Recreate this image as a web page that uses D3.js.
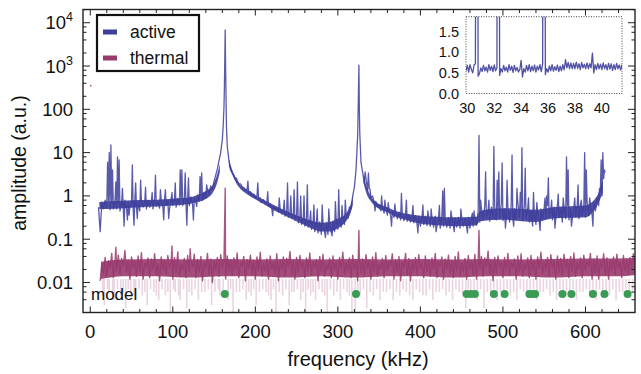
<!DOCTYPE html>
<html>
<head>
<meta charset="utf-8">
<script src="https://cdn.jsdelivr.net/npm/d3@7"></script>
<style>
  body { margin: 0; background: #fff; }
  text { font-family: "Liberation Sans", Arial, sans-serif; fill: #111; }
</style>
</head>
<body>
<script>
// ---- data ----
// active spectrum: noise band sampled every 2 kHz from 10 kHz
const activeStart = 10, activeStep = 2;
const activeBand = [
  .55,.15,.72,.5,.8,.55,.75,.48,.7,.5,
  .78,.5,.7,.45,.68,.52,.8,.5,.72,.55,
  .75,.5,.82,.55,.7,.45,.78,.55,.72,.5,
  .8,.55,.75,.5,.85,.58,.72,.52,.8,.55,
  .82,.6,.78,.5,.85,.6,.8,.55,.88,.62,
  .85,.6,.9,.65,.82,.6,.95,.62,.9,.7,
  1.05,.75,1.1,.8,1.2,.9,1.4,1.1,1.7,1.4,
  2.2,3.0,4.2,6.5,10,20,110,900,14,6.5,
  4.0,3.4,3.0,2.4,2.3,1.9,1.9,1.6,1.55,1.35,
  1.4,1.15,1.25,1.0,1.1,.9,1.0,.82,.9,.75,
  .82,.65,.72,.58,.66,.5,.6,.47,.55,.42,
  .52,.38,.48,.34,.44,.32,.42,.3,.38,.27,
  .36,.24,.33,.22,.3,.2,.29,.19,.27,.17,
  .26,.15,.24,.14,.25,.13,.23,.14,.24,.13,
  .25,.14,.26,.15,.28,.17,.3,.19,.33,.22,
  .38,.3,.55,.5,1.0,1.6,4,25,120,6,
  3.5,2.0,2.6,1.3,1.5,.9,1.0,.7,.75,.55,
  .62,.45,.55,.4,.52,.36,.48,.34,.45,.32,
  .44,.3,.42,.28,.4,.27,.38,.26,.37,.25,
  .36,.24,.35,.22,.34,.2,.33,.22,.34,.21,
  .33,.2,.32,.19,.34,.2,.32,.18,.33,.2,
  .32,.19,.31,.18,.33,.2,.31,.19,.32,.18,
  .33,.2,.31,.19,.32,.18,.33,.2,.31,.21,
  .45,.25,.5,.28,.6,.3,.45,.26,.55,.3,
  .6,.28,.5,.3,.65,.27,.5,.3,.55,.25,
  .6,.3,.5,.28,.7,.32,.5,.27,.6,.3,
  .5,.25,.45,.2,.4,.22,.45,.25,.5,.28,
  .55,.3,.6,.32,.5,.28,.55,.3,.6,.32,
  .5,.25,.55,.3,.6,.28,.5,.3,.55,.33,
  .6,.3,.65,.35,.6,.32,.7,.35,.65,.38,
  .75,.45,.9,.6,1.3,1.0,2.5,3.5
];
// resonance tops [kHz, amplitude]
const activePeaks = [
  [161, 40], [162.5, 300], [163, 1500], [163.5, 6800], [164.5, 200], [165, 40],
  [325, 300], [325.5, 1050], [326.5, 30]
];
// narrow spikes and dips [kHz, amplitude]
const activeSpikes = [
  [21,6],[23,10],[25,15],[27,4],[31,2.1],[33,8],[35,6.8],[39,1.5],[41,.2],[45,.28],
  [47,.36],[51,5.2],[53,.21],[55,2],[57,.3],[61,2.3],[67,1.6],[75,1.2],[79,3],[85,1.4],
  [89,.28],[91,1.4],[95,.3],[99,1.2],[103,2],[109,4],[111,4],[115,3.4],[117,.21],[119,2.6],
  [125,.28],[129,.57],[133,2.8],[135,3.4],[141,1.8],
  [177,2.6],[183,1.8],[191,2.2],[203,2],[207,.7],[215,1.25],[221,.35],[229,.9],[235,.8],
  [239,2],[243,1],[247,1.4],[251,2.1],[255,1],[259,1],[263,1.8],[267,.45],[271,.62],
  [275,.5],[281,.62],[285,.11],[289,.5],[293,.12],[297,.74],[301,1.4],[305,.6],[309,.8],
  [333,3.6],[337,3.4],[339,1.4],[345,.45],[353,1.0],[357,.8],[361,.7],[365,.2],[369,.65],
  [377,1.15],[383,.8],[391,.6],[397,.14],[403,.62],[409,.45],[413,.5],[419,.15],[423,.6],
  [427,1.3],[429,1.5],[437,.45],[441,.15],[449,.5],[457,.14],[463,.4],[465,.45],
  [471,25],[473,.8],[479,3.6],[483,.8],[489,14],[491,.3],[493,2.3],[495,3.6],[499,5.8],
  [503,.18],[505,2.3],[511,8.8],[513,.2],[517,1.5],[521,1.2],[523,13],[527,4.4],[531,.9],
  [537,1.2],[541,.7],[545,.16],[551,.9],[553,1.0],[555,2.6],[559,.8],[563,.18],[567,1.1],
  [573,.9],[577,8],[579,4],[583,.2],[587,.9],[591,1.8],[595,.8],[599,10],[601,4],[605,.9],
  [609,.2],[613,.57],[617,1.5],[619,6.8],[621,10],[623,4]
];
// dense core of the active noise band [kHz, low, high], one list per stretch between resonances
const activeCoreA = [
  [11,.5,.72],[20,.5,.74],[40,.52,.77],[60,.55,.8],[80,.57,.82],[100,.6,.86],[120,.65,.92],
  [130,.72,1.05],[140,.85,1.3],[148,1.15,1.75],[153,1.8,2.8],[157,3.5,5.5]
];
const activeCoreB = [
  [168,5,7],[172,3.1,4],[180,1.6,2],[190,1.1,1.4],[200,.84,1.05],[210,.65,.82],[220,.5,.65],
  [230,.4,.52],[240,.32,.43],[250,.26,.36],[260,.21,.3],[270,.17,.26],[280,.15,.24],
  [290,.15,.25],[300,.18,.3],[310,.26,.4],[315,.38,.6],[318,.6,1.0]
];
const activeCoreC = [
  [331,2,3.2],[335,1.1,1.6],[340,.75,1.0],[350,.5,.65],[360,.42,.55],[370,.33,.45],
  [380,.29,.4],[400,.23,.35],[420,.21,.33],[440,.2,.32],[468,.21,.33],[472,.26,.45],
  [500,.28,.52],[540,.25,.48],[560,.3,.55],[600,.32,.6],[610,.45,.78],[616,.7,1.2],[621,1.2,2.4]
];

// thermal spectrum: sampled every 2 kHz from 12 kHz
const thermalStart = 12, thermalStep = 2;
const thermalBand = [
  .011,.028,.016,.038,.014,.032,.021,.047,.013,.029,
  .019,.043,.015,.036,.024,.055,.017,.033,.012,.039,
  .022,.031,.014,.041,.018,.049,.012,.028,.023,.037,
  .013,.035,.02,.046,.015,.027,.011,.039,.019,.033,
  .016,.042,.022,.03,.012,.038,.017,.051,.014,.027,
  .02,.036,.013,.042,.018,.031,.023,.045,.013,.034,
  .017,.04,.011,.029,.021,.047,.015,.035,.01,.032,
  .019,.038,.014,.044,.022,.03,.012,.041,.018,.033,
  .015,.037,.02,.048,.013,.029,.024,.04,.011,.034,
  .021,.043,.016,.032,.012,.039,.019,.05,.014,.028,
  .018,.035,.012,.041,.02,.03,.015,.046,.011,.033,
  .02,.039,.014,.036,.023,.052,.016,.031,.012,.038,
  .017,.042,.021,.029,.013,.037,.019,.048,.015,.03,
  .022,.034,.011,.04,.018,.045,.014,.027,.02,.036,
  .013,.041,.019,.031,.012,.038,.021,.05,.016,.029,
  .019,.037,.013,.043,.02,.03,.011,.04,.017,.035,
  .015,.044,.021,.033,.012,.039,.018,.049,.014,.028,
  .02,.036,.013,.042,.019,.031,.024,.046,.012,.034,
  .017,.04,.011,.03,.022,.047,.015,.036,.011,.032,
  .019,.038,.015,.044,.021,.029,.013,.041,.018,.033,
  .014,.037,.02,.047,.013,.03,.023,.039,.012,.035,
  .021,.043,.016,.032,.013,.04,.019,.051,.015,.029,
  .018,.036,.012,.042,.02,.031,.015,.045,.012,.034,
  .02,.04,.014,.037,.023,.053,.016,.032,.011,.038,
  .017,.041,.021,.03,.013,.038,.019,.047,.015,.031,
  .022,.035,.012,.041,.018,.046,.014,.028,.02,.037,
  .013,.042,.019,.032,.012,.039,.021,.05,.016,.03,
  .019,.038,.014,.044,.021,.031,.012,.041,.017,.036,
  .015,.045,.021,.034,.013,.04,.018,.048,.014,.029,
  .02,.037,.013,.043,.019,.032,.024,.047,.012,.035,
  .017,.041,.012,.031,.022,.046,.015,.037,.012,.033,
  .019,.039,.015,.045,.021,.03,.013,.042,.018,.034,
  .016,.038,.021,.046,.027
];
const thermalSpikes = [[31,.065],[99,.07],[121,.06],[163.5,1.5],[325.5,.16],[471,.16]];
// dense core of the thermal band [kHz, low, high]
const thermalCore = [
  [13,.012,.03],[40,.014,.034],[80,.014,.035],[120,.013,.034],[160,.014,.035],[200,.014,.034],
  [240,.013,.035],[280,.014,.034],[320,.013,.035],[360,.014,.034],[400,.014,.035],
  [440,.013,.034],[480,.014,.035],[520,.014,.034],[560,.013,.035],[600,.014,.036],
  [640,.014,.036],[660,.015,.037]
];
// deep dips of the thermal trace [kHz, amplitude]
const thermalDips = [
  [15,.005],[17,.003],[21,.007],[23,.006],[27,.005],[29,.004],[33,.007],[37,.005],[40,.006],
  [43,.0025],[46,.007],[49,.006],[53,.005],[55,.004],[59,.007],[63,.005],[66,.006],[69,.003],
  [73,.007],[77,.006],[80,.005],[83,.004],[87,.007],[91,.005],[94,.006],[97,.002],[101,.007],
  [103,.006],[107,.005],[109,.004],[113,.007],[117,.0025],[120,.006],[123,.005],[127,.007],
  [131,.004],[135,.006],[139,.006],[143,.007],[147,.003],[151,.006],[155,.007],[157,.005],
  [161,.006],[167,.004],[170,.007],[173,.002],[177,.006],[181,.006],[185,.007],[189,.004],
  [192,.006],[195,.005],[198,.007],[201,.003],[205,.006],[209,.007],[213,.006],[216,.005],
  [219,.004],[222,.007],[225,.002],[229,.006],[233,.005],[237,.007],[241,.003],[244,.006],
  [247,.006],[251,.007],[255,.004],[258,.006],[261,.002],[264,.007],[267,.005],[270,.006],
  [273,.004],[277,.007],[281,.006],[284,.005],[287,.002],[291,.007],[295,.005],[299,.006],
  [303,.004],[307,.007],[311,.006],[314,.005],[317,.002],[321,.002],[324,.006],[327,.005],
  [331,.007],[335,.0025],[339,.006],[343,.005],[347,.007],[351,.004],[355,.006],[359,.006],
  [363,.007],[367,.004],[371,.006],[375,.005],[379,.007],[383,.006],[387,.005],[391,.004],
  [395,.007],[399,.006],[403,.005],[407,.005],[411,.007],[415,.004],[419,.006],[423,.006],
  [427,.007],[431,.005],[435,.006],[439,.004],[443,.007],[447,.006],[451,.005],[455,.0025],
  [458,.007],[461,.005],[465,.006],[469,.004],[473,.007],[477,.0025],[481,.006],[485,.005],
  [489,.007],[493,.004],[497,.006],[501,.006],[505,.007],[509,.005],[513,.006],[517,.004],
  [521,.007],[525,.006],[529,.005],[533,.005],[537,.007],[541,.004],[545,.006],[549,.006],
  [553,.007],[557,.005],[561,.006],[565,.004],[569,.007],[573,.006],[577,.005],[581,.005],
  [585,.007],[589,.004],[593,.006],[597,.006],[601,.007],[605,.005],[609,.006],[613,.004],
  [617,.007],[621,.006],[625,.005],[629,.005],[633,.007],[637,.004],[641,.006],[645,.006],
  [649,.007],[653,.005],[657,.006]
];
const thermalDC = [0.5, 350];

// model frequencies (kHz)
const modelFreqs = [163, 322, 456, 461, 466, 489, 502, 532, 536, 539, 572, 583, 609, 623, 651];

// inset: active trace, 29.9–41.5 kHz every 0.1 kHz
const insetStart = 29.9, insetStep = 0.1;
const insetValues = [
  .55,.68,.52,.7,.58,.5,.69,.72,20,.42,
  .48,.62,.53,.68,.55,.64,.52,.7,.56,.66,
  .53,.69,.55,.62,20,.44,.6,.52,.68,.55,
  .64,.52,.7,.56,.66,.51,.68,.55,.63,.52,
  .58,.8,.4,.6,.52,.68,.55,.7,.53,.66,
  .55,.69,.52,.66,.57,.7,.53,.72,20,.46,
  .6,.52,.67,.55,.7,.54,.65,.56,.69,.53,
  .66,.55,.7,.57,.82,.62,.75,.6,.74,.6,
  .73,.6,.76,.61,.72,.58,.75,.62,.71,.6,
  .74,.6,.72,.62,.98,.5,.7,.58,.73,.6,
  .71,.58,.74,.6,.7,.57,.73,.59,.72,.56,
  .7,.58,.73,.6,.69,.57,.7
];

const xMajorTicks = [0, 100, 200, 300, 400, 500, 600];
const yMajorTicks = [0.01, 0.1, 1, 10, 100, 1000, 10000];
const yTickLabels = ['0.01', '0.1', '1', '10', '100', ['10', '3'], ['10', '4']];
const insetXTicks = [30, 32, 34, 36, 38, 40];
const insetYTicks = [0, 0.5, 1, 1.5];
const insetYLabels = ['0.0', '0.5', '1.0', '1.5'];
const seriesNames = ['active', 'thermal'];

// ---- drawing ----
const W = 641, H = 374;
const activeColor = '#3d3d9b', thermalColor = '#993a6d', modelColor = '#3a9b55';
const plot = { left: 83, right: 635, top: 9.5, bottom: 312.5 };

const svg = d3.select('body').append('svg').attr('width', W).attr('height', H);

const x = d3.scaleLinear().domain([-8.8, 660]).range([plot.left, plot.right]);
const y = d3.scaleLog().domain([0.00203, 20200]).range([plot.bottom, plot.top]);

svg.append('clipPath').attr('id', 'plotClip').append('rect')
  .attr('x', plot.left).attr('y', plot.top)
  .attr('width', plot.right - plot.left).attr('height', plot.bottom - plot.top);

const g = svg.append('g').attr('clip-path', 'url(#plotClip)');
const line = d3.line().x(d => x(d[0])).y(d => y(d[1]));
const core = d3.area().x(d => x(d[0])).y0(d => y(d[1])).y1(d => y(d[2]))
  .curve(d3.curveMonotoneX);

const activeSeries = activeBand.map((a, i) => [activeStart + i * activeStep, a])
  .concat(activePeaks, activeSpikes).sort((p, q) => p[0] - q[0]);
const thermalSeries = thermalBand.map((a, i) => [thermalStart + i * thermalStep, a])
  .concat(thermalSpikes).sort((p, q) => p[0] - q[0]);

// pale thermal dips below the band
g.append('g').selectAll('line').data(thermalDips).join('line')
  .attr('x1', d => x(d[0])).attr('x2', d => x(d[0]))
  .attr('y1', y(0.012)).attr('y2', d => y(d[1]))
  .attr('stroke', thermalColor).attr('stroke-opacity', 0.22).attr('stroke-width', 1.6);

[activeCoreA, activeCoreB, activeCoreC].forEach(c => {
  g.append('path').datum(c).attr('d', core).attr('fill', activeColor).attr('fill-opacity', 0.9);
});
g.append('path').datum(activeSeries).attr('d', line)
  .attr('fill', 'none').attr('stroke', activeColor).attr('stroke-linejoin', 'round')
  .attr('stroke-width', 1.3).attr('stroke-opacity', 0.85);

g.append('path').datum(thermalCore).attr('d', core)
  .attr('fill', thermalColor).attr('fill-opacity', 0.9);
g.append('path').datum(thermalSeries).attr('d', line)
  .attr('fill', 'none').attr('stroke', thermalColor).attr('stroke-linejoin', 'round')
  .attr('stroke-width', 1.4).attr('stroke-opacity', 0.85);

g.append('rect').attr('x', x(thermalDC[0]) - 0.7).attr('y', y(thermalDC[1]) - 0.7)
  .attr('width', 1.4).attr('height', 1.4).attr('fill', thermalColor);

// model row
const modelY = 294;
g.append('g').selectAll('circle').data(modelFreqs).join('circle')
  .attr('cx', d => x(d)).attr('cy', modelY).attr('r', 4).attr('fill', modelColor);
svg.append('text').attr('x', 91).attr('y', 300).attr('font-size', 17).text('model');

// frame and ticks
const axes = svg.append('g').attr('stroke', '#222');
axes.append('rect').attr('x', plot.left).attr('y', plot.top)
  .attr('width', plot.right - plot.left).attr('height', plot.bottom - plot.top)
  .attr('fill', 'none').attr('stroke-width', 1.4);

const xMinor = d3.range(20, 660, 20).filter(v => v % 100 !== 0);
const xTicks = xMajorTicks.map(v => [v, 6]).concat(xMinor.map(v => [v, 3.5]));
xTicks.forEach(([v, len]) => {
  axes.append('line').attr('x1', x(v)).attr('x2', x(v))
    .attr('y1', plot.bottom).attr('y2', plot.bottom - len).attr('stroke-width', 1);
  axes.append('line').attr('x1', x(v)).attr('x2', x(v))
    .attr('y1', plot.top).attr('y2', plot.top + len).attr('stroke-width', 1);
});

const yMinor = [];
[-3, -2, -1, 0, 1, 2, 3, 4].forEach(e => [2, 4, 6, 8].forEach(m => {
  const v = m * Math.pow(10, e);
  if (v > 0.00203 && v < 20200) yMinor.push(v);
}));
const yTicks = yMajorTicks.map(v => [v, 7]).concat(yMinor.map(v => [v, 3.5]));
yTicks.forEach(([v, len]) => {
  axes.append('line').attr('y1', y(v)).attr('y2', y(v))
    .attr('x1', plot.left).attr('x2', plot.left + len).attr('stroke-width', 1);
  axes.append('line').attr('y1', y(v)).attr('y2', y(v))
    .attr('x1', plot.right).attr('x2', plot.right - len).attr('stroke-width', 1);
});

svg.append('g').selectAll('text').data(xMajorTicks).join('text')
  .attr('x', d => x(d)).attr('y', 338).attr('text-anchor', 'middle')
  .attr('font-size', 18.5).text(d => d);

yMajorTicks.forEach((v, i) => {
  const lab = yTickLabels[i];
  const t = svg.append('text').attr('x', 73).attr('y', y(v) + 6.5)
    .attr('text-anchor', 'end').attr('font-size', 18.5);
  if (Array.isArray(lab)) {
    t.append('tspan').text(lab[0]);
    t.append('tspan').attr('dy', -8).attr('font-size', 12.5).text(lab[1]);
  } else {
    t.text(lab);
  }
});

svg.append('text').attr('x', 358).attr('y', 366).attr('text-anchor', 'middle')
  .attr('font-size', 20).text('frequency (kHz)');
svg.append('text').attr('transform', 'translate(26,163) rotate(-90)')
  .attr('text-anchor', 'middle').attr('font-size', 19.5).text('amplitude (a.u.)');

// legend
const legend = svg.append('g');
legend.append('rect').attr('x', 97).attr('y', 15).attr('width', 102).attr('height', 56)
  .attr('fill', '#fff').attr('stroke', '#111').attr('stroke-width', 2.2);
seriesNames.forEach((name, i) => {
  const ly = 32 + i * 26;
  legend.append('rect').attr('x', 103).attr('y', ly - 2.5).attr('width', 14).attr('height', 5)
    .attr('fill', i === 0 ? activeColor : thermalColor);
  legend.append('text').attr('x', 130).attr('y', ly + 6).attr('font-size', 17.5).text(name);
});

// inset
const ix = d3.scaleLinear().domain([29.9, 41.5]).range([466, 622]);
const iy = d3.scaleLinear().domain([0, 1.86]).range([93.5, 16.7]);
const inset = svg.append('g');
inset.append('rect').attr('x', 466).attr('y', 16.7).attr('width', 156).attr('height', 76.8)
  .attr('fill', '#fff');
svg.append('clipPath').attr('id', 'insetClip').append('rect')
  .attr('x', 466).attr('y', 16.7).attr('width', 156).attr('height', 76.8);
const insetSeries = insetValues.map((a, i) => [insetStart + i * insetStep, a]);
inset.append('path').datum(insetSeries).attr('clip-path', 'url(#insetClip)')
  .attr('d', d3.line().x(d => ix(d[0])).y(d => iy(d[1])))
  .attr('fill', 'none').attr('stroke', activeColor).attr('stroke-width', 1.3)
  .attr('stroke-linejoin', 'round').attr('stroke-opacity', 0.9);
inset.append('rect').attr('x', 466).attr('y', 16.7).attr('width', 156).attr('height', 76.8)
  .attr('fill', 'none').attr('stroke', '#444').attr('stroke-width', 1)
  .attr('stroke-dasharray', '1,1.5');
inset.selectAll('text.ix').data(insetXTicks).join('text').attr('class', 'ix')
  .attr('x', d => ix(d)).attr('y', 113).attr('text-anchor', 'middle')
  .attr('font-size', 14.5).text(d => d);
inset.selectAll('text.iy').data(insetYTicks).join('text').attr('class', 'iy')
  .attr('x', 459).attr('y', d => iy(d) + 5).attr('text-anchor', 'end')
  .attr('font-size', 14.5).text((d, i) => insetYLabels[i]);
</script>
</body>
</html>
